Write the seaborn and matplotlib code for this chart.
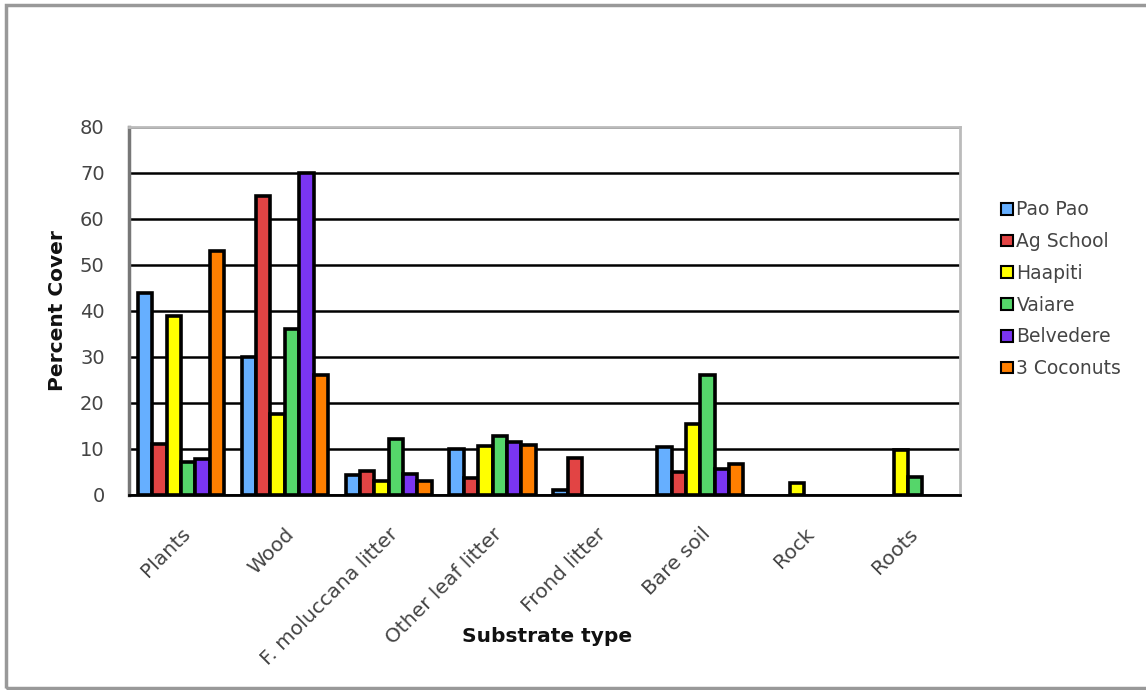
import matplotlib
matplotlib.use("Agg")
import matplotlib.pyplot as plt
from matplotlib.patches import Rectangle, Patch
import seaborn as sns
import pandas as pd
import numpy as np

# Substrate cover by site
categories = ["Plants", "Wood", "F. moluccana litter", "Other leaf litter",
              "Frond litter", "Bare soil", "Rock", "Roots"]
sites = ["Pao Pao", "Ag School", "Haapiti", "Vaiare", "Belvedere", "3 Coconuts"]

pao_pao    = [44, 30, 4.3, 10, 1, 10.5, 0, 0]
ag_school  = [11, 65, 5.2, 3.7, 8, 5, 0, 0]
haapiti    = [39, 17.7, 3, 10.7, 0, 15.5, 2.7, 9.7]
vaiare     = [7.2, 36, 12.2, 12.8, 0, 26, 0, 3.9]
belvedere  = [7.8, 70, 4.6, 11.5, 0, 5.6, 0, 0]
coconuts   = [53, 26, 3, 10.9, 0, 6.7, 0, 0]

colors = ["#66AFFF", "#E24444", "#FFFF00", "#55D66A", "#7A35F2", "#FF7F00"]

series = [pao_pao, ag_school, haapiti, vaiare, belvedere, coconuts]
df = pd.DataFrame({
    "Substrate type": np.tile(categories, len(sites)),
    "Site": np.repeat(sites, len(categories)),
    "Percent Cover": np.concatenate(series),
})

sns.set_theme(style="white")
plt.rcParams["font.family"] = ["DejaVu Sans"]

fig = plt.figure(figsize=(11.46, 6.9), dpi=100)
ax = fig.add_axes([129 / 1146, 1 - 495 / 690, (960 - 129) / 1146, (495 - 127) / 690])

sns.barplot(data=df, x="Substrate type", y="Percent Cover", hue="Site",
            order=categories, hue_order=sites, palette=colors,
            width=0.83, edgecolor="black", linewidth=2.6, saturation=1,
            errorbar=None, ax=ax, zorder=3, legend=False)

# Empty (zero) bars are not drawn
for bar in ax.patches:
    if bar.get_height() == 0:
        bar.set_visible(False)

ax.set_ylim(0, 80)
ax.set_xlim(-0.5, len(categories) - 0.5)
ax.set_yticks(np.arange(0, 81, 10))
ax.yaxis.grid(True, color="black", linewidth=1.8, zorder=0)
ax.set_axisbelow(True)

# Category boundary ticks on the x axis
ax.set_xticks(np.arange(-0.5, len(categories), 1.0), minor=True)
ax.tick_params(axis="x", which="major", length=0, pad=21)
ax.tick_params(axis="x", which="minor", length=6, width=1.5, color="black", direction="out")
ax.tick_params(axis="y", which="major", length=7, width=1.5, color="black",
               direction="inout", labelsize=14, labelcolor="#444444", pad=14)
ax.set_xticks(range(len(categories)))
ax.set_xticklabels(categories, rotation=45, ha="right", rotation_mode="anchor",
                   fontsize=14.5, color="#444444")

for side in ["top", "right"]:
    ax.spines[side].set_color("#BBBBBB")
    ax.spines[side].set_linewidth(2)
ax.spines["left"].set_color("#777777")
ax.spines["left"].set_linewidth(2.5)
ax.spines["bottom"].set_color("black")
ax.spines["bottom"].set_linewidth(2)

ax.set_ylabel("Percent Cover", fontsize=14.5, fontweight="bold", color="#111111")
ax.yaxis.set_label_coords((58 - 129) / 831, 0.5)
ax.set_xlabel("Substrate type", fontsize=14.5, fontweight="bold", color="#111111")
ax.xaxis.set_label_coords((547 - 129) / 831, (495 - 637) / 368)
ax.xaxis.label.set_va("center")
ax.yaxis.label.set_va("center")

handles = [Patch(facecolor=c, edgecolor="black", linewidth=1.5) for c in colors]
ax.legend(handles, sites, loc="upper left", bbox_to_anchor=(992 / 1146, 1 - 191 / 690),
          bbox_transform=fig.transFigure, frameon=False, fontsize=13.5,
          handlelength=0.6, handleheight=0.6, handletextpad=0.2,
          labelspacing=0.68, borderpad=0, labelcolor="#444444")

# Outer chart frame
fig.patches.append(Rectangle((6 / 1146, 2 / 690), 1.2, 1 - 7 / 690,
                             transform=fig.transFigure, fill=False,
                             edgecolor="#999999", linewidth=2.5))

fig.savefig("out.png", dpi=100)
